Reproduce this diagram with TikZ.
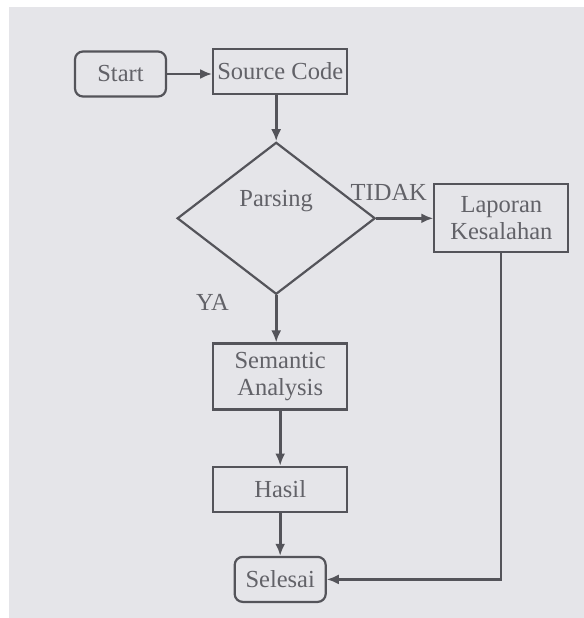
\documentclass[tikz,border=0pt]{standalone}
\usepackage{fontspec}
\setmainfont{Liberation Serif}
\usepackage{tikz}
\usetikzlibrary{arrows.meta,positioning,shapes.geometric}
\definecolor{scanInk}{RGB}{84,84,90}
\definecolor{scanText}{RGB}{98,98,104}
\definecolor{scanPaper}{RGB}{229,229,233}

\begin{document}
\begin{tikzpicture}[x=0.5pt,y=-0.5pt,font=\fontsize{12.25}{13.6}\selectfont,
    node distance=22pt,
    term/.style={rounded corners=4pt,draw=scanInk,line width=1.1pt,text=scanText,
                 minimum width=45.5pt,minimum height=22.5pt,inner sep=1pt},
    proc/.style={draw=scanInk,line width=1.1pt,text=scanText,align=center,
                 minimum width=67pt,minimum height=22.5pt,inner sep=1pt},
    dec/.style={diamond,draw=scanInk,line width=1.1pt,minimum width=99pt,
                minimum height=76pt,inner sep=0pt},
    lbl/.style={text=scanText,inner sep=1pt},
    ar/.style={-{Latex[length=6pt,width=5pt]},scanInk,line width=1.4pt}]
    % paper
    \fill[white] (0,0) rectangle (584,618);
    \fill[scanPaper] (9,7) rectangle (584,618);
    \node[term] (start) at (120.5,74) {Start};
    \node[proc,right=22.5pt of start,yshift=1.2pt] (src) {Source Code};
    \node[dec,below=23pt of src,xshift=-2pt,
          label={[lbl,yshift=8.5pt]center:Parsing}] (parse) {};
    \node[proc,right=28.5pt of parse,minimum height=34pt] (lap) {Laporan\\Kesalahan};
    \node[proc,below=23.5pt of parse,xshift=2pt,minimum height=33pt] (sem) {Semantic\\Analysis};
    \node[proc,below=27.5pt of sem] (hasil) {Hasil};
    \node[term,below=21.5pt of hasil] (end) {Selesai};
    \draw[ar] (start) -- (start -| src.west);
    \draw[ar] (parse.north |- src.south) -- (parse);
    \draw[ar] (parse.east) -- node[lbl,above=7pt,pos=0.22] {TIDAK} (lap);
    \draw[ar] (parse.south) -- node[lbl,left=22pt,pos=0.15] {YA} (parse.south |- sem.north);
    \draw[ar] (sem) -- (hasil);
    \draw[ar] (hasil) -- (end);
    \draw[ar,line width=1.1pt] (lap.south) |- (end.east);
  \end{tikzpicture}
\end{document}
